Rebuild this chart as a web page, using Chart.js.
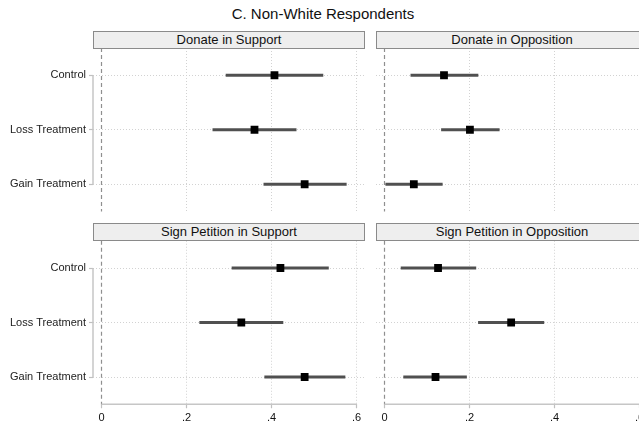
<!DOCTYPE html>
<html>
<head>
<meta charset="utf-8">
<script src="https://cdn.jsdelivr.net/npm/chart.js@4.4.1/dist/chart.umd.min.js"></script>
<style>
    html, body { margin: 0; padding: 0; background: #fff; }
    #fig { position: relative; width: 639px; height: 425px; overflow: hidden; font-family: "Liberation Sans", Arial, sans-serif; }
    #fig canvas { position: absolute; left: 0; top: 0; }
    .titulo { position: absolute; top: 5px; left: 0; width: 646px; text-align: center; font-size: 15px; color: #111; }
    .cabecalho { position: absolute; height: 16px; line-height: 16px; border: 1px solid #8a8a8a; background: #eeeeee;
                 text-align: center; font-size: 13px; color: #111; box-sizing: content-box; }
</style>
</head>
<body>
<div id="fig">
    <div class="titulo">C. Non-White Respondents</div>
    <canvas id="painel1" width="660" height="425"></canvas>
    <canvas id="painel2" width="660" height="425"></canvas>
    <canvas id="painel3" width="660" height="425"></canvas>
    <canvas id="painel4" width="660" height="425"></canvas>
    <div class="cabecalho" style="left:93px; top:31px; width:270px;">Donate in Support</div>
    <div class="cabecalho" style="left:376px; top:31px; width:270px;">Donate in Opposition</div>
    <div class="cabecalho" style="left:93px; top:223px; width:270px;">Sign Petition in Support</div>
    <div class="cabecalho" style="left:376px; top:223px; width:270px;">Sign Petition in Opposition</div>
</div>
<script>
const categorias = ['Control', 'Loss Treatment', 'Gain Treatment'];
const xTicks = [0, 0.2, 0.4, 0.6];
const xTickLabels = ['0', '.2', '.4', '.6'];

// estimativas e intervalos de confiança por painel
const doacaoApoioEst = [0.407, 0.360, 0.478];
const doacaoApoioMin = [0.293, 0.262, 0.382];
const doacaoApoioMax = [0.521, 0.458, 0.576];

const doacaoOposicaoEst = [0.140, 0.201, 0.069];
const doacaoOposicaoMin = [0.062, 0.134, 0.003];
const doacaoOposicaoMax = [0.220, 0.270, 0.136];

const peticaoApoioEst = [0.421, 0.329, 0.478];
const peticaoApoioMin = [0.307, 0.231, 0.384];
const peticaoApoioMax = [0.534, 0.427, 0.573];

const peticaoOposicaoEst = [0.126, 0.298, 0.120];
const peticaoOposicaoMin = [0.039, 0.221, 0.045];
const peticaoOposicaoMax = [0.215, 0.375, 0.193];

// linha tracejada no zero + eixos no estilo Stata (só entre o primeiro e o último tick)
const linhasStata = {
    id: 'linhasStata',
    beforeDatasetsDraw(chart, args, opts) {
        const { ctx, chartArea } = chart;
        const x = chart.scales.x;
        const y = chart.scales.y;
        ctx.save();
        const x0 = x.getPixelForValue(0);
        ctx.strokeStyle = '#8f8f8f';
        ctx.lineWidth = 1.2;
        ctx.setLineDash([4, 3]);
        ctx.beginPath();
        ctx.moveTo(x0, chartArea.top);
        ctx.lineTo(x0, chartArea.bottom);
        ctx.stroke();
        ctx.setLineDash([]);
        ctx.strokeStyle = '#c6c6c6';
        ctx.lineWidth = 1.5;
        if (opts.eixoY) {
            ctx.beginPath();
            ctx.moveTo(chartArea.left, y.getPixelForValue(0));
            ctx.lineTo(chartArea.left, y.getPixelForValue(categorias.length - 1));
            ctx.stroke();
        }
        if (opts.eixoX) {
            ctx.beginPath();
            ctx.moveTo(x.getPixelForValue(xTicks[0]), chartArea.bottom);
            ctx.lineTo(x.getPixelForValue(xTicks[xTicks.length - 1]), chartArea.bottom);
            ctx.stroke();
        }
        ctx.restore();
    }
};

function criarPainel(id, est, min, max, esquerda, embaixo) {
    const ctx = document.getElementById(id).getContext('2d');
    const padding = {
        left: esquerda ? 0 : 376,
        right: esquerda ? 295 : 12,
        top: embaixo ? 240.75 : 48,
        bottom: embaixo ? 0 : 213.5
    };
    return new Chart(ctx, {
        type: 'bar',
        data: {
            labels: categorias,
            datasets: [{
                data: est,
                type: 'line',
                indexAxis: 'y',
                showLine: false,
                pointStyle: 'rect',
                pointRadius: 5.5,
                pointBorderWidth: 0,
                backgroundColor: '#000',
                borderColor: '#000',
                order: 1
            }, {
                data: min.map((v, i) => [v, max[i]]),
                backgroundColor: '#505050',
                borderWidth: 0,
                barThickness: 2.5,
                order: 2
            }]
        },
        options: {
            indexAxis: 'y',
            responsive: false,
            animation: false,
            devicePixelRatio: 1,
            layout: { padding: padding },
            plugins: {
                legend: { display: false },
                tooltip: { enabled: false },
                linhasStata: { eixoY: esquerda, eixoX: embaixo }
            },
            scales: {
                x: {
                    type: 'linear',
                    min: -0.02,
                    max: 0.62,
                    afterBuildTicks: s => { s.ticks = xTicks.map(v => ({ value: v })); },
                    afterFit: s => { s.height = embaixo ? 20.75 : 0; },
                    border: { display: false, dash: [1, 2] },
                    grid: {
                        color: c => (c.tick && c.tick.value === 0) ? 'rgba(0,0,0,0)' : '#d2d2d2',
                        lineWidth: 1,
                        drawTicks: embaixo,
                        tickLength: 4,
                        tickColor: '#c0c0c0',
                        tickWidth: 1.2
                    },
                    ticks: {
                        display: embaixo,
                        padding: 3,
                        color: '#111',
                        font: { family: '"Liberation Sans", Arial, sans-serif', size: 11 },
                        callback: (v, i) => xTickLabels[i]
                    }
                },
                y: {
                    type: 'category',
                    offset: true,
                    afterFit: s => { s.width = esquerda ? 93 : 0; },
                    border: { display: false, dash: [1, 2] },
                    grid: {
                        offset: false,
                        color: '#d2d2d2',
                        lineWidth: 1,
                        drawTicks: esquerda,
                        tickLength: 4,
                        tickColor: '#c0c0c0',
                        tickWidth: 1.2
                    },
                    ticks: {
                        display: esquerda,
                        padding: 3,
                        color: '#222',
                        font: { family: '"Liberation Sans", Arial, sans-serif', size: 11 }
                    }
                }
            }
        },
        plugins: [linhasStata]
    });
}

criarPainel('painel1', doacaoApoioEst, doacaoApoioMin, doacaoApoioMax, true, false);
criarPainel('painel2', doacaoOposicaoEst, doacaoOposicaoMin, doacaoOposicaoMax, false, false);
criarPainel('painel3', peticaoApoioEst, peticaoApoioMin, peticaoApoioMax, true, true);
criarPainel('painel4', peticaoOposicaoEst, peticaoOposicaoMin, peticaoOposicaoMax, false, true);
</script>
</body>
</html>
